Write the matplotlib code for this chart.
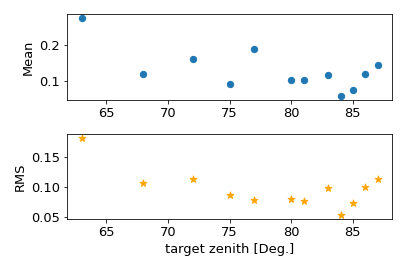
import matplotlib
matplotlib.use("Agg")
import matplotlib.pyplot as plt

zenith = [63, 68, 72, 75, 77, 80, 81, 83, 84, 85, 86, 87]
mean_vals = [0.275, 0.119, 0.160, 0.0926, 0.188, 0.1045, 0.1045, 0.118,
             0.0586, 0.0752, 0.121, 0.144]
rms_vals = [0.1815, 0.106, 0.113, 0.0864, 0.0788, 0.0804, 0.0761, 0.0989,
            0.0538, 0.0734, 0.1005, 0.1136]

plt.rcParams["font.size"] = 13

fig = plt.figure(figsize=(407 / 72, 271 / 72), dpi=72)
a1 = fig.add_axes([66.7 / 407, 1 - 100 / 271, (392.3 - 66.7) / 407, 86 / 271])
a2 = fig.add_axes([66.7 / 407, 1 - 218.7 / 271, (392.3 - 66.7) / 407, 84.7 / 271])

a1.scatter(zenith, mean_vals, color="tab:blue", s=40)
a1.set_ylabel("Mean")

a2.scatter(zenith, rms_vals, color="orange", marker="*", s=50)
a2.set_ylabel("RMS")
a2.set_xlabel("target zenith [Deg.]")

fig.savefig("out.png", dpi=72)
